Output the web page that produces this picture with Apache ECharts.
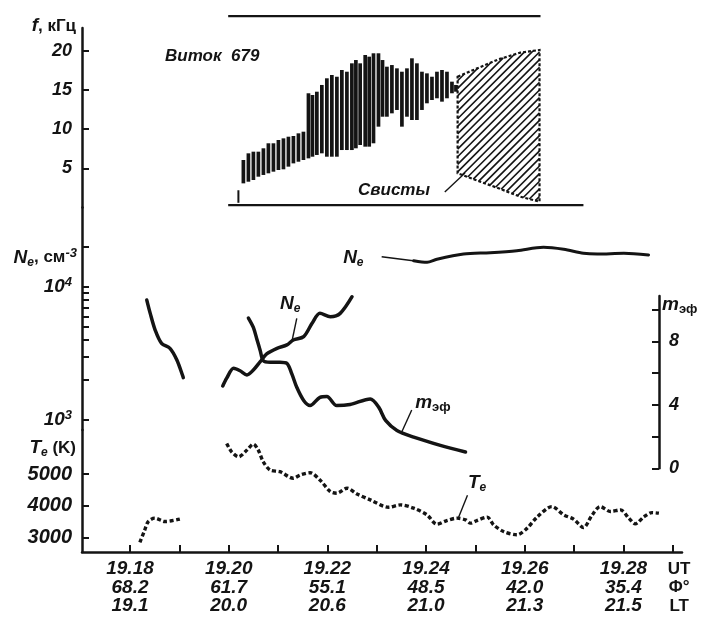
<!DOCTYPE html>
<html><head><meta charset="utf-8">
<script src="https://cdn.jsdelivr.net/npm/echarts@6/dist/echarts.min.js"></script>
<style>html,body{margin:0;padding:0;background:#fff}#c{width:702px;height:619px}</style>
</head><body><div id="c"></div>
<script>
// ================= DATA =================
// time axis: minutes after 19:00 UT
const xTickMinutes = [18,19,20,21,22,23,24,25,26,27,28,29];
const xLabelMinutes = [18,20,22,24,26,28];
const utLabels  = ['19.18','19.20','19.22','19.24','19.26','19.28'];
const latLabels = ['68.2','61.7','55.1','48.5','42.0','35.4'];
const ltLabels  = ['19.1','20.0','20.6','21.0','21.3','21.5'];
const unitLabels = ['UT','Φ°','LT'];

// axes ticks
const fTicks = [5,10,15,20];
const neTicks = [1000,2000,3000,4000,5000,6000,7000,8000,9000,10000,20000];
const neLabels = [1000,10000];
const teTicks = [3000,4000,5000];
const mTicks = [0,2,4,6,8,10];
const mLabels = [0,4,8];

// VLF spectrogram (f, kHz): each vertical bar from low to high frequency
const barT  = [20.197,20.298,20.400,20.501,20.602,20.704,20.805,20.907,21.008,21.110,21.211,21.312,21.414,21.515,21.617,21.698,21.787,21.888,21.990,22.091,22.193,22.294,22.396,22.497,22.578,22.665,22.767,22.848,22.935,23.036,23.118,23.207,23.308,23.410,23.511,23.613,23.714,23.815,23.917,24.018,24.120,24.221,24.323,24.424,24.525,24.606];
const barHi = [2.2,6.06,6.91,7.12,7.12,7.55,8.19,8.19,8.61,8.82,9.03,9.12,9.46,9.67,14.57,14.35,14.77,15.63,16.48,16.90,16.68,17.54,17.32,18.39,18.81,18.39,19.45,19.24,19.67,19.67,18.81,17.96,18.17,17.75,17.32,17.75,19.03,18.39,17.32,17.11,16.68,17.32,17.54,17.32,16.05,15.63];
const barLo = [0.6,3.08,3.29,3.51,3.93,4.15,4.36,4.57,4.78,4.87,5.21,5.63,5.84,6.06,6.27,6.48,6.70,6.91,6.48,6.48,6.48,7.33,7.33,7.33,7.55,7.97,7.76,7.76,8.19,10.31,11.58,11.58,12.01,12.44,10.31,11.58,11.16,11.16,12.44,13.29,13.71,13.93,13.50,13.93,14.57,14.77];

// whistler region (Свисты)
const whTopT = [24.64,24.96,25.47,25.91,26.30];
const whTopF = [16.68,17.54,18.90,19.75,20.09];
const whBotT = [24.64,25.10,25.47,25.91,26.30];
const whBotF = [4.36,3.29,2.45,1.38,0.74];

// spectrogram frame lines: [tStart, tEnd, f]
const frameLines = [[19.99,26.32,24.4],[19.99,27.19,0.3]];

// electron density Ne, cm^-3
const neLeftT = [18.34,18.41,18.51,18.64,18.81,18.95,19.08];
const neLeftV = [7940,6310,4730,3760,3450,2820,2080];
const neMidT  = [19.88,19.96,20.10,20.23,20.37,20.50,20.64,20.77,20.98,21.18,21.31,21.52,21.69,21.85,22.06,22.26,22.50];
const neMidV  = [1800,2060,2440,2340,2180,2370,2740,3130,3450,3660,3980,4220,5310,6310,5960,6310,8410];
const neTopT  = [23.75,24.02,24.22,24.76,25.30,25.84,26.38,26.79,27.19,27.47,28.01,28.51];
const neTopV  = [15670,15240,16070,17580,17990,18620,19770,19100,17820,17580,17820,17300];

// effective ion mass m_эф
const mT = [20.40,20.50,20.57,20.64,20.70,20.84,21.04,21.18,21.28,21.38,21.52,21.65,21.85,21.99,22.19,22.46,22.87,23.04,23.18,23.41,23.75,24.29,24.80];
const mV = [9.48,8.89,8.16,7.42,6.79,6.69,6.69,6.62,5.96,5.11,4.28,3.96,4.48,4.53,3.96,4.03,4.38,3.86,3.02,2.39,1.97,1.45,1.03];

// electron temperature Te, K
const te1T = [18.20,18.30,18.37,18.50,18.71,19.01];
const te1V = [2843,3242,3503,3610,3503,3579];
const te2T = [19.96,20.06,20.20,20.37,20.50,20.60,20.70,20.84,21.04,21.31,21.45,21.65,21.85,22.06,22.19,22.40,22.60,22.87,23.24,23.48,23.75,24.02,24.22,24.42,24.63,24.80,24.90,25.03,25.24,25.37,25.57,25.84,26.05,26.25,26.55,26.79,26.99,27.19,27.36,27.53,27.74,27.94,28.11,28.24,28.41,28.58,28.72];
const te2V = [5968,5704,5547,5758,5946,5758,5390,5129,5075,4868,4972,5044,4814,4447,4396,4553,4374,4186,3956,4028,3925,3714,3421,3535,3610,3557,3453,3535,3642,3399,3189,3085,3296,3642,3975,3714,3579,3314,3692,3975,3818,3871,3610,3431,3642,3786,3767];

// in-plot annotations: anchor (time, value) + optional leader line [t1,v1,t2,v2]
const notesF = [
  {t:18.71, v:19.3, text:'{t|Виток  679}'},
  {t:22.62, v:2.23, text:'{t|Свисты}', leader:[24.38,1.98,24.79,4.40]}
];
const notesNe = [
  {t:22.32, v:16400, text:'{i|N}{sub|e}', leader:[23.10,16790,23.74,15670]},
  {t:21.04, v:7413, text:'{i|N}{sub|e}', leader:[21.38,5794,21.28,3864]}
];
const notesM = [
  {t:23.78, v:4.12, text:'{i|m}{subb|эф}', leader:[23.71,3.68,23.51,2.31]}
];
const notesTe = [
  {t:24.85, v:4715, text:'{i|T}{sub|e}', leader:[24.84,4335,24.65,3598]}
];

// ================= CHART =================
const FONT = '"Liberation Sans", Arial, sans-serif';
const INK = '#141414';
const PXMIN = 49.34;          // pixels per minute
const GL = 82, GW = 600;      // shared horizontal frame
const T0 = 18 - (130 - GL) / PXMIN;
const T1 = T0 + GW / PXMIN;
const MW = 577;               // m_эф grid width (axis sits inside the plot)
const TM1 = T0 + MW / PXMIN;
const lg = v => Math.log10(v);

const richBase = {
  i:   {fontFamily:FONT, fontStyle:'italic', fontWeight:'bold', fontSize:19, lineHeight:22, color:INK, fill:INK},
  t:   {fontFamily:FONT, fontStyle:'italic', fontWeight:'bold', fontSize:17, lineHeight:22, color:INK, fill:INK},
  sub: {fontFamily:FONT, fontStyle:'italic', fontWeight:'bold', fontSize:12, lineHeight:12, verticalAlign:'bottom', color:INK, fill:INK},
  subb:{fontFamily:FONT, fontStyle:'normal', fontWeight:'bold', fontSize:13, lineHeight:13, verticalAlign:'bottom', color:INK, fill:INK},
  sup: {fontFamily:FONT, fontStyle:'italic', fontWeight:'bold', fontSize:13, lineHeight:13, verticalAlign:'top', color:INK, fill:INK},
  r:   {fontFamily:FONT, fontStyle:'normal', fontWeight:'bold', fontSize:17, lineHeight:22, color:INK, fill:INK},
  rf:  {fontFamily:FONT, fontStyle:'italic', fontWeight:'bold', fontSize:18, lineHeight:22, color:INK, fill:INK},
  rt:  {fontFamily:FONT, fontStyle:'italic', fontWeight:'bold', fontSize:20, lineHeight:22, color:INK, fill:INK}
};

function yAxisBase(gridIndex, min, max, ticks, labels, fmt, extra) {
  return Object.assign({
    type:'value', gridIndex, min, max, position:'left',
    axisLine:{show:true, onZero:false, lineStyle:{color:INK, width:2.5}},
    axisTick:{show:true, inside:true, length:7, lineStyle:{color:INK, width:2}, customValues:ticks},
    axisLabel:{show:true, customValues:labels, formatter:fmt, margin:10, color:INK,
      fontFamily:FONT, fontStyle:'italic', fontWeight:'bold', fontSize:19, rich:richBase},
    splitLine:{show:false}
  }, extra || {});
}

function noteSeries(idx, notes, tf) {
  tf = tf || (v => v);
  return {
    type:'custom', xAxisIndex:idx, yAxisIndex:idx, silent:true, z:10, clip:false,
    data: notes.map(n => [n.t, tf(n.v)]),
    renderItem(params, api) {
      const n = notes[params.dataIndex];
      const p = api.coord([n.t, tf(n.v)]);
      const children = [{
        type:'text', x:p[0], y:p[1],
        style:{text:n.text, rich:richBase, fill:INK, align:'left', verticalAlign:'middle',
               textAlign:'left', textVerticalAlign:'middle'}
      }];
      if (n.leader) {
        const a = api.coord([n.leader[0], tf(n.leader[1])]);
        const b = api.coord([n.leader[2], tf(n.leader[3])]);
        children.push({type:'line', shape:{x1:a[0],y1:a[1],x2:b[0],y2:b[1]}, style:{stroke:INK, lineWidth:1.4}});
      }
      return {type:'group', children};
    }
  };
}

function lineSeries(idx, ts, vs, style, tf) {
  tf = tf || (v => v);
  return {
    type:'line', xAxisIndex:idx, yAxisIndex:idx, showSymbol:false, symbol:'none',
    smooth:0.3, data: ts.map((t,i) => [t, tf(vs[i])]),
    lineStyle:Object.assign({color:INK, width:3.5, cap:'round', join:'round'}, style || {}),
    silent:true, z:5
  };
}

const hiddenX = (idx, max) => ({type:'value', gridIndex:idx, min:T0, max:max, show:false});

const option = {
  animation:false,
  backgroundColor:'#ffffff',
  grid:[
    {left:GL, top:28,    width:GW, height:179.5},   // f
    {left:GL, top:207.5, width:GW, height:222.5},   // Ne (log)
    {left:GL, top:430,   width:GW, height:122},     // Te
    {left:GL, top:296,   width:MW, height:172.3}    // m_эф
  ],
  xAxis:[
    hiddenX(0, T1), hiddenX(1, T1),
    {
      type:'value', gridIndex:2, min:T0, max:T1, position:'bottom',
      axisLine:{show:true, onZero:false, lineStyle:{color:INK, width:2.5}},
      axisTick:{show:true, inside:true, length:7, lineStyle:{color:INK, width:2}, customValues:xTickMinutes},
      axisLabel:{
        show:true, margin:8, customValues: xLabelMinutes.concat([29.13]),
        formatter:(v) => {
          const k = xLabelMinutes.findIndex(m => Math.abs(m - v) < 1e-6);
          if (k < 0) return unitLabels.map(u => '{u|' + u + '}').join('\n');
          return '{a|' + utLabels[k] + '}\n{a|' + latLabels[k] + '}\n{a|' + ltLabels[k] + '}';
        },
        rich:{
          a:{fontFamily:FONT, fontStyle:'italic', fontWeight:'bold', fontSize:19, lineHeight:18.5, color:INK},
          u:{fontFamily:FONT, fontStyle:'normal', fontWeight:'bold', fontSize:17, lineHeight:18.5, color:INK}
        }
      },
      splitLine:{show:false}
    },
    hiddenX(3, TM1)
  ],
  yAxis:[
    yAxisBase(0, 0, 179.5/7.84, fTicks, fTicks, v => '{rf|' + v + '}', {
      name:'{i|f}{r|, кГц}', nameLocation:'end', nameGap:2,
      nameTextStyle:{align:'right', verticalAlign:'middle', padding:[0,6,0,0], rich:richBase}
    }),
    yAxisBase(1, 3 - 10/133.3, 3 + 212.5/133.3, neTicks.map(lg), neLabels.map(lg),
      v => '{i|10}{sup|' + Math.round(v) + '}', {
      name:'{i|N}{sub|e}{r|, см}{sup|-3}', nameLocation:'end', nameGap:-50,
      nameTextStyle:{align:'right', verticalAlign:'middle', padding:[0,5,0,0], rich:richBase}
    }),
    yAxisBase(2, 3000 - 14.5/31.7*1000, 3000 + 107.5/31.7*1000, teTicks, teTicks, v => '{rt|' + v + '}', {
      name:'{i|T}{sub|e}{r| (K)}', nameLocation:'end', nameGap:-18,
      nameTextStyle:{align:'right', verticalAlign:'middle', padding:[0,6,0,0], rich:richBase}
    }),
    yAxisBase(3, 0, 172.3/15.85, mTicks, mLabels, v => '{rf|' + v + '}', {
      position:'right',
      name:'{i|m}{subb|эф}', nameLocation:'end', nameGap:-9,
      nameTextStyle:{align:'left', verticalAlign:'middle', padding:[0,0,0,3], rich:richBase}
    })
  ],
  series:[
    // spectrogram bars
    {
      type:'custom', xAxisIndex:0, yAxisIndex:0, silent:true, clip:false, z:4,
      data: barT.map((t,i) => [t, barLo[i], barHi[i]]),
      encode:{x:0, y:[1,2]},
      renderItem(params, api) {
        const t = api.value(0);
        const p1 = api.coord([t, api.value(2)]);
        const p2 = api.coord([t, api.value(1)]);
        const w = params.dataIndex === 0 ? 2 : 3.7;
        return {type:'rect', shape:{x:p1[0]-w/2, y:p1[1], width:w, height:p2[1]-p1[1]}, style:{fill:INK}};
      }
    },
    // frame lines of the spectrogram panel
    {
      type:'custom', xAxisIndex:0, yAxisIndex:0, silent:true, clip:false, z:4,
      data: frameLines,
      renderItem(params, api) {
        const a = api.coord([api.value(0), api.value(2)]);
        const b = api.coord([api.value(1), api.value(2)]);
        return {type:'line', shape:{x1:a[0],y1:a[1],x2:b[0],y2:b[1]}, style:{stroke:INK, lineWidth:2.2}};
      }
    },
    // whistler hatched region
    {
      type:'custom', xAxisIndex:0, yAxisIndex:0, silent:true, clip:false, z:4,
      data: [[whTopT[0], whTopF[0]]],
      renderItem(params, api) {
        const top = whTopT.map((t,i) => api.coord([t, whTopF[i]]));
        const bot = whBotT.map((t,i) => api.coord([t, whBotF[i]]));
        const poly = top.concat(bot.slice().reverse());
        const sums = poly.map(p => p[0] + p[1]);
        const cmin = Math.min.apply(null, sums), cmax = Math.max.apply(null, sums);
        const children = [];
        for (let c = cmin + 4; c < cmax; c += 7.6) {
          const pts = [];
          for (let i = 0; i < poly.length; i++) {
            const P = poly[i], Q = poly[(i+1) % poly.length];
            const sp = P[0] + P[1] - c, sq = Q[0] + Q[1] - c;
            if ((sp < 0) !== (sq < 0)) {
              const r = sp / (sp - sq);
              pts.push([P[0] + (Q[0]-P[0])*r, P[1] + (Q[1]-P[1])*r]);
            }
          }
          pts.sort((a,b) => a[0] - b[0]);
          for (let k = 0; k + 1 < pts.length; k += 2) {
            children.push({type:'line', shape:{x1:pts[k][0], y1:pts[k][1], x2:pts[k+1][0], y2:pts[k+1][1]},
              style:{stroke:INK, lineWidth:1.6}});
          }
        }
        children.push({type:'polygon', shape:{points:poly},
          style:{fill:'none', stroke:INK, lineWidth:2.2, lineDash:[3,2]}});
        return {type:'group', children};
      }
    },
    noteSeries(0, notesF),
    // Ne
    lineSeries(1, neLeftT, neLeftV, null, lg),
    lineSeries(1, neMidT, neMidV, null, lg),
    lineSeries(1, neTopT, neTopV, {width:3}, lg),
    noteSeries(1, notesNe, lg),
    // Te
    lineSeries(2, te1T, te1V, {width:3.4, type:[4,2.5], cap:'butt'}),
    lineSeries(2, te2T, te2V, {width:3.4, type:[4,2.5], cap:'butt'}),
    noteSeries(2, notesTe),
    // m_эф
    lineSeries(3, mT, mV),
    noteSeries(3, notesM)
  ]
};

const chart = echarts.init(document.getElementById('c'), null, {renderer:'canvas'});
chart.setOption(option);
</script>
</body></html>
